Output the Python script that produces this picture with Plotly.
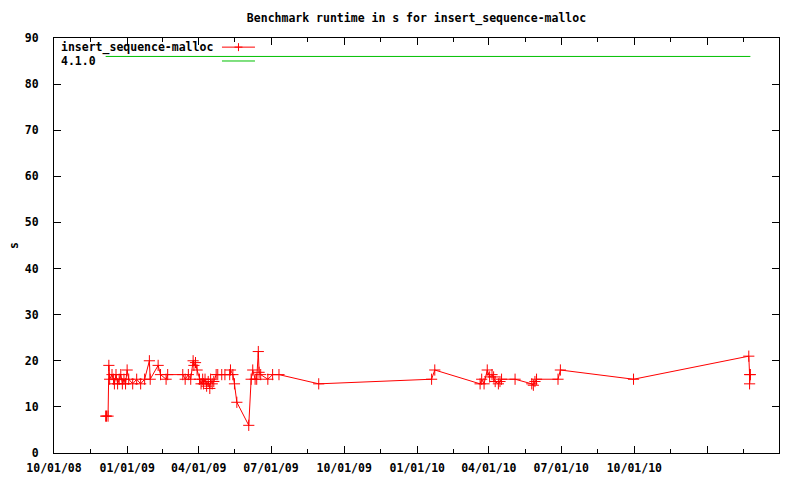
import plotly.graph_objects as go
import pandas as pd

series_name = "insert_sequence-malloc"
dates = [
    "2008-12-05", "2008-12-06", "2008-12-08", "2008-12-09", "2008-12-10", "2008-12-13", "2008-12-15",
    "2008-12-16", "2008-12-18", "2008-12-20", "2008-12-22", "2008-12-24", "2008-12-26", "2008-12-28",
    "2008-12-30",
    "2009-01-01", "2009-01-03", "2009-01-08", "2009-01-13", "2009-01-18", "2009-01-23", "2009-01-29",
    "2009-01-30",
    "2009-02-09", "2009-02-12", "2009-02-19", "2009-02-21",
    "2009-03-12", "2009-03-15", "2009-03-19", "2009-03-22", "2009-03-25", "2009-03-26", "2009-03-28",
    "2009-03-30",
    "2009-04-02", "2009-04-04", "2009-04-06", "2009-04-07", "2009-04-09", "2009-04-11", "2009-04-13",
    "2009-04-15", "2009-04-16", "2009-04-18", "2009-04-20", "2009-04-23", "2009-04-25", "2009-04-30",
    "2009-05-04", "2009-05-10", "2009-05-11", "2009-05-14", "2009-05-16", "2009-05-19",
    "2009-06-03", "2009-06-06", "2009-06-08", "2009-06-11", "2009-06-13", "2009-06-15", "2009-06-16",
    "2009-06-18", "2009-06-27",
    "2009-07-03", "2009-07-11", "2009-08-30",
    "2010-01-19", "2010-01-23",
    "2010-03-21", "2010-03-23", "2010-03-26", "2010-03-30", "2010-04-02", "2010-04-05", "2010-04-07",
    "2010-04-09", "2010-04-13", "2010-04-15", "2010-04-17",
    "2010-05-04", "2010-05-25", "2010-05-27", "2010-05-29", "2010-05-31",
    "2010-06-27", "2010-06-30", "2010-09-30",
    "2011-02-22", "2011-02-23", "2011-02-23", "2011-02-24",
]
runtime = [
    8, 8, 8, 19, 16, 17, 16, 15, 17, 15, 16, 17, 15, 16, 15,
    18, 16, 15, 16, 15, 16, 20, 16,
    19, 17, 16, 17,
    17, 16, 17, 16, 20, 19, 19.6, 18,
    16, 15, 16, 15, 16, 14.5, 15.5, 14, 16, 15, 15.5, 17, 17, 17,
    17, 17, 18, 17, 15, 11,
    6, 16, 18, 16, 16, 22, 17.5, 17, 16,
    17, 17, 15,
    16, 18,
    15, 16, 15, 18, 16.5, 17, 16.5, 15.5, 15, 15.5, 16,
    16, 15, 14.7, 15.5, 16,
    16, 18, 16,
    21, 17, 15, 17,
]

ref_name = "4.1.0"
ref_value = 86

tick_dates = ["2008-10-01", "2009-01-01", "2009-04-01", "2009-07-01", "2009-10-01",
              "2010-01-01", "2010-04-01", "2010-07-01", "2010-10-01", "2011-01-01"]
tick_labels = ["10/01/08", "01/01/09", "04/01/09", "07/01/09", "10/01/09",
               "01/01/10", "04/01/10", "07/01/10", "10/01/10", ""]
x_range = ["2008-10-01", "2011-04-01"]
y_ticks = [0, 10, 20, 30, 40, 50, 60, 70, 80, 90]

# minor ticks halfway between the major ones
_all = pd.to_datetime(tick_dates + [x_range[1]])
minor_ticks = [(a + (b - a) / 2).strftime("%Y-%m-%d %H:%M") for a, b in zip(_all[:-1], _all[1:])]

FONT = "DejaVu Sans Mono"
RED = "#ff0000"
GREEN = "#00c000"

fig = go.Figure()
fig.add_trace(go.Scatter(
    x=dates, y=runtime, mode="lines+markers", name=series_name,
    line=dict(color=RED, width=1),
    marker=dict(symbol="cross-thin", size=8, color=RED, line=dict(color=RED, width=1)),
))
fig.add_trace(go.Scatter(
    x=[dates[0], dates[-1]], y=[ref_value, ref_value], mode="lines", name=ref_name,
    line=dict(color=GREEN, width=1),
))

axis_common = dict(
    showline=True, linecolor="black", linewidth=1, mirror="ticks",
    ticks="inside", tickcolor="black", tickwidth=1, ticklen=7,
    showgrid=False, zeroline=False, automargin=False,
    tickfont=dict(family=FONT, size=11.5, color="black", weight="bold"),
)

fig.update_layout(
    width=800, height=480,
    paper_bgcolor="white", plot_bgcolor="white",
    margin=dict(l=54, r=21, t=38, b=27, autoexpand=False),
    showlegend=False,
    title=dict(text="Benchmark runtime in s for insert_sequence-malloc",
               font=dict(family=FONT, size=11.5, color="black", weight="bold"),
               x=0.5, xref="paper", xanchor="center", y=0.9625, yref="container", yanchor="middle",
               automargin=False),
    xaxis=dict(type="date", range=x_range, tickmode="array", tickvals=tick_dates, ticktext=tick_labels,
               ticklabelstandoff=4,
               minor=dict(tickmode="array", tickvals=minor_ticks, ticks="inside", ticklen=4,
                          tickcolor="black", tickwidth=1, showgrid=False),
               **axis_common),
    yaxis=dict(range=[0, 90], tickmode="array", tickvals=y_ticks,
               ticklabelstandoff=12,
               title=dict(text="s", standoff=3, font=dict(family=FONT, size=11.5, color="black", weight="bold")),
               **axis_common),
)

# legend drawn gnuplot-style (text left, sample right) in paper coordinates
lfont = dict(family=FONT, size=11.5, color="black", weight="bold")
y1, y2 = 0.978, 0.9446
fig.add_annotation(x=0.007, y=y1, xref="paper", yref="paper", xanchor="left", yanchor="middle",
                   text=series_name, showarrow=False, font=lfont)
fig.add_annotation(x=0.007, y=y2, xref="paper", yref="paper", xanchor="left", yanchor="middle",
                   text=ref_name, showarrow=False, font=lfont)
sx0, sx1 = 0.2317, 0.2772
fig.add_shape(type="line", xref="paper", yref="paper", x0=sx0, x1=sx1, y0=y1, y1=y1,
              line=dict(color=RED, width=1))
fig.add_shape(type="line", xref="paper", yref="paper", x0=(sx0 + sx1) / 2, x1=(sx0 + sx1) / 2,
              y0=y1 - 0.0096, y1=y1 + 0.0096, line=dict(color=RED, width=1))
fig.add_shape(type="line", xref="paper", yref="paper", x0=(sx0 + sx1) / 2 - 0.0055, x1=(sx0 + sx1) / 2 + 0.0055,
              y0=y1, y1=y1, line=dict(color=RED, width=1))
fig.add_shape(type="line", xref="paper", yref="paper", x0=sx0, x1=sx1, y0=y2, y1=y2,
              line=dict(color=GREEN, width=1))

fig.write_html("out.html", config={"displayModeBar": False},
               post_script="document.body.style.margin='0';")
